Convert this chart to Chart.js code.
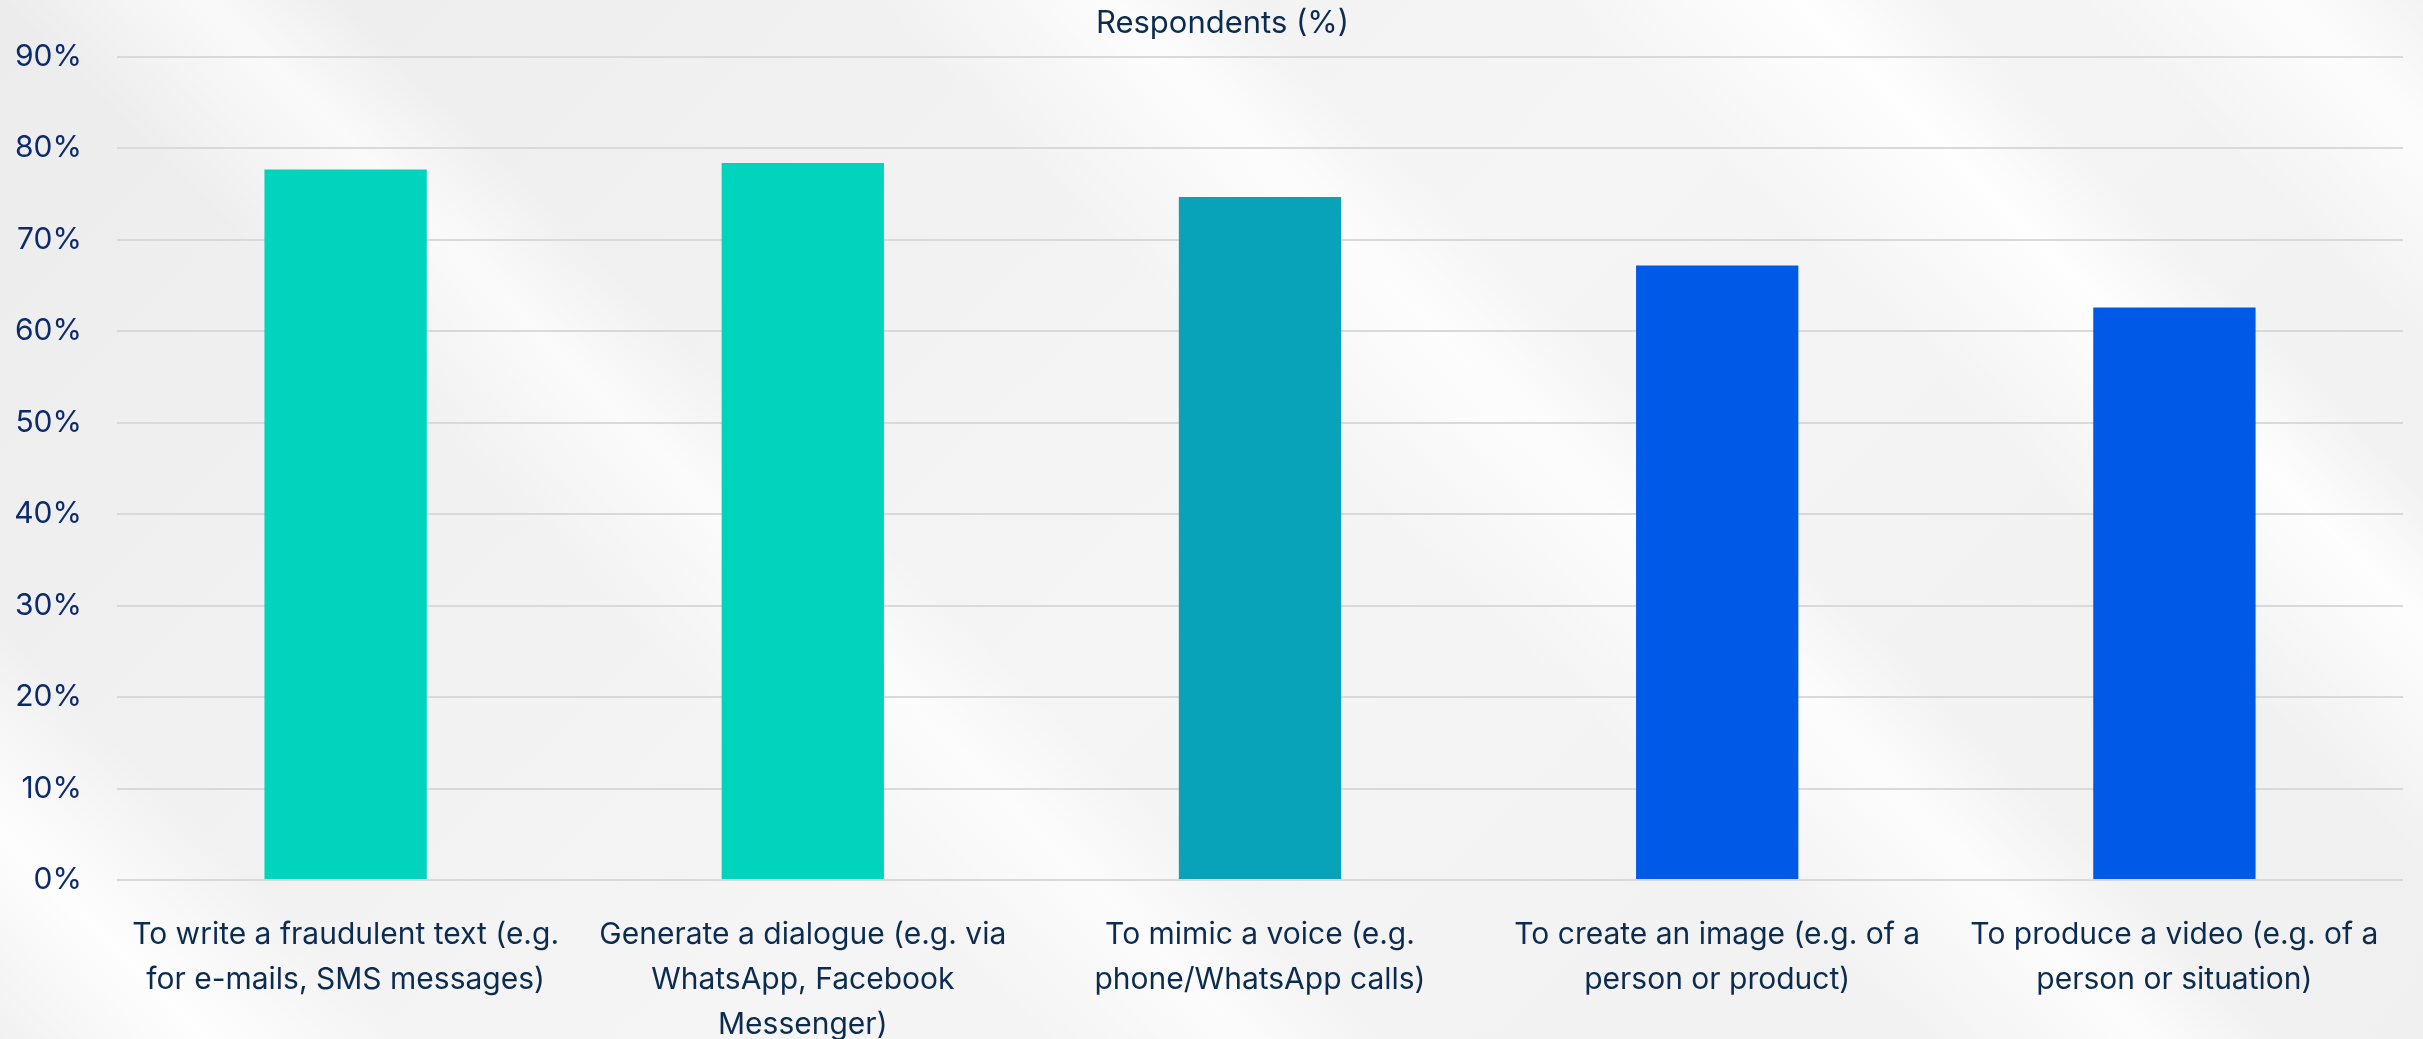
<!DOCTYPE html>
<html>
<head>
<meta charset="utf-8">
<script src="https://cdn.jsdelivr.net/npm/chart.js@4/dist/chart.umd.min.js"></script>
<style>
  html, body { margin: 0; padding: 0; }
  body {
    width: 2423px;
    height: 1039px;
    overflow: hidden;
    background-color: #f2f2f2;
    background-image:
      linear-gradient(45deg, rgba(255,255,255,0) 0%, rgba(255,255,255,0.9) 6%, rgba(255,255,255,0) 12%,
        rgba(255,255,255,0) 30%, rgba(255,255,255,0.7) 36%, rgba(255,255,255,0) 40%,
        rgba(255,255,255,0) 55%, rgba(255,255,255,0.8) 62%, rgba(255,255,255,0) 66%,
        rgba(255,255,255,0) 75%, rgba(255,255,255,0.9) 82%, rgba(255,255,255,0) 86%,
        rgba(255,255,255,0) 90%, rgba(255,255,255,0.8) 96%, rgba(255,255,255,0) 100%),
      linear-gradient(135deg, #ececec 0%, #f5f5f5 50%, #f0f0f0 100%);
  }
  #wrap { position: relative; width: 2423px; height: 1039px; }
</style>
</head>
<body>
<div id="wrap"><canvas id="chart" width="2423" height="1039"></canvas></div>
<script>
const categories = [
  ["To write a fraudulent text (e.g.", "for e-mails, SMS messages)"],
  ["Generate a dialogue (e.g. via", "WhatsApp, Facebook", "Messenger)"],
  ["To mimic a voice (e.g.", "phone/WhatsApp calls)"],
  ["To create an image (e.g. of a", "person or product)"],
  ["To produce a video (e.g. of a", "person or situation)"]
];
const respondents = [77.7, 78.4, 74.7, 67.2, 62.6];
const barColors = ["#00d4bc", "#00d4bc", "#08a2b9", "#005ae8", "#005ae8"];
const yTicks = [0, 10, 20, 30, 40, 50, 60, 70, 80, 90];
const titleText = "Respondents (%)";

const fontFamily = "Inter, 'Noto Sans', sans-serif";

// title sits slightly right of the canvas centre in the original
const topTitle = {
  id: "topTitle",
  afterDraw(chart) {
    const c = chart.ctx;
    c.save();
    c.font = `31px ${fontFamily}`;
    c.fillStyle = "#0c2c4f";
    c.textAlign = "center";
    c.textBaseline = "middle";
    c.fillText(titleText, chart.width / 2 + 11, 24);
    c.restore();
  }
};

const ctx = document.getElementById("chart").getContext("2d");

new Chart(ctx, {
  type: "bar",
  data: {
    labels: categories,
    datasets: [{
      label: titleText,
      data: respondents,
      backgroundColor: barColors,
      borderWidth: 0,
      categoryPercentage: 1.0,
      barPercentage: 0.355
    }]
  },
  options: {
    responsive: false,
    animation: false,
    layout: { padding: { left: 0, right: 20, top: 57, bottom: 0 } },
    plugins: {
      legend: { display: false },
      tooltip: { enabled: false },
      title: { display: false }
    },
    scales: {
      x: {
        grid: { display: false },
        border: { display: false },
        ticks: {
          color: "#0c2c4f",
          font: { family: fontFamily, size: 30, lineHeight: 1.5 },
          padding: 24,
          maxRotation: 0,
          autoSkip: false
        },
        afterFit: s => { s.height = 159; }
      },
      y: {
        min: 0,
        max: 90,
        afterBuildTicks: s => { s.ticks = yTicks.map(v => ({ value: v })); },
        grid: { color: "#d9d9d9", lineWidth: 2, drawTicks: false },
        border: { display: false },
        ticks: {
          color: "#0d2a6b",
          font: { family: fontFamily, size: 30 },
          padding: 35,
          callback: v => v + "%"
        },
        afterFit: s => { s.width = 117; }
      }
    }
  },
  plugins: [topTitle]
});
</script>
</body>
</html>
